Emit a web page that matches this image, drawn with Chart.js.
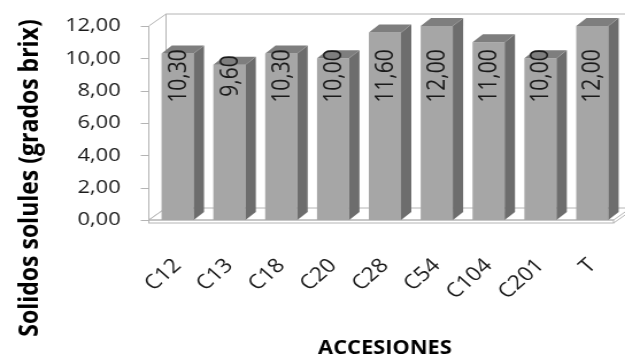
<!DOCTYPE html>
<html>
<head>
<meta charset="utf-8">
<script src="https://cdn.jsdelivr.net/npm/chart.js@4"></script>
<style>
  html, body { margin: 0; padding: 0; background: #fff; overflow: hidden; }
  /* Excel export is wider than tall: render narrow, stretch horizontally */
  #wrap { width: 544px; height: 358px; transform: scaleX(1.149); transform-origin: 0 0; }
</style>
</head>
<body>
<div id="wrap"><canvas id="chart" width="544" height="358"></canvas></div>
<script>
// ── Data ───────────────────────────────────────────────────
const accesiones = ['C12','C13','C18','C20','C28','C54','C104','C201','T'];
const solidos    = [10.30, 9.60, 10.30, 10.00, 11.60, 12.00, 11.00, 10.00, 12.00];
const yTicks     = [0, 2, 4, 6, 8, 10, 12];

const fmt = v => v.toFixed(2).replace('.', ',');

// ── 3D look ────────────────────────────────────────────────
const WALL_DX = 15, WALL_DY = -12;   // depth of the back wall
const BAR_DX  = 9,  BAR_DY  = -8;    // depth of each column
const FLOOR_H = 3;

Chart.defaults.font.family = "'Open Sans', sans-serif";
Chart.defaults.color = '#1a1a1a';

// fixed axis boxes so the plot area lands where the frame is drawn
function fixBox(size) {
  return s => {
    if (s.isHorizontal()) s.height = size; else s.width = size;
    s.paddingTop = s.paddingBottom = s.paddingLeft = s.paddingRight = 0;
  };
}

const frame3d = {
  id: 'frame3d',
  beforeDatasetsDraw(chart) {
    const { ctx, chartArea: a, scales: { y } } = chart;
    const ax = Math.round(a.left - 3.5) + 0.5;
    const top = y.getPixelForValue(yTicks[yTicks.length - 1]);
    const base = y.getPixelForValue(0);
    const fr = a.right - 4;
    ctx.save();
    ctx.strokeStyle = '#b4b4b4';
    ctx.fillStyle = '#fff';
    ctx.lineWidth = 1;

    // back wall outline
    ctx.beginPath();
    ctx.moveTo(ax + WALL_DX, base + WALL_DY);
    ctx.lineTo(ax + WALL_DX, top + WALL_DY);
    ctx.lineTo(chart.width + 20, top + WALL_DY);
    ctx.stroke();

    // side wall
    ctx.beginPath();
    ctx.moveTo(ax, base);
    ctx.lineTo(ax, top);
    ctx.lineTo(ax + WALL_DX, top + WALL_DY);
    ctx.lineTo(ax + WALL_DX, base + WALL_DY);
    ctx.closePath();
    ctx.fill();
    ctx.stroke();

    // floor slab: top, front, right
    ctx.beginPath();
    ctx.moveTo(ax, base);
    ctx.lineTo(fr, base);
    ctx.lineTo(fr + WALL_DX, base + WALL_DY);
    ctx.lineTo(ax + WALL_DX, base + WALL_DY);
    ctx.closePath();
    ctx.fill();
    ctx.stroke();
    ctx.strokeRect(ax, base, fr - ax, FLOOR_H);
    ctx.beginPath();
    ctx.moveTo(fr, base + FLOOR_H);
    ctx.lineTo(fr + WALL_DX, base + WALL_DY + FLOOR_H);
    ctx.lineTo(fr + WALL_DX, base + WALL_DY);
    ctx.stroke();

    // value axis ticks
    yTicks.forEach(v => {
      const py = Math.round(y.getPixelForValue(v)) + 0.5;
      ctx.beginPath();
      ctx.moveTo(ax - 7, py);
      ctx.lineTo(ax, py);
      ctx.stroke();
    });
    ctx.restore();
  },
  afterDatasetsDraw(chart) {
    const { ctx, chartArea: a } = chart;
    const bars = chart.getDatasetMeta(0).data;
    ctx.save();
    bars.forEach((bar, i) => {
      const { x, y, base, width } = bar.getProps(['x', 'y', 'base', 'width'], true);
      const l = x - width / 2, r = x + width / 2;
      // side face
      ctx.fillStyle = '#6d6d6d';
      ctx.beginPath();
      ctx.moveTo(r, y);
      ctx.lineTo(r + BAR_DX, y + BAR_DY);
      ctx.lineTo(r + BAR_DX, base + BAR_DY);
      ctx.lineTo(r, base);
      ctx.closePath();
      ctx.fill();
      // top face
      ctx.fillStyle = '#7e7e7e';
      ctx.beginPath();
      ctx.moveTo(l, y);
      ctx.lineTo(l + BAR_DX, y + BAR_DY);
      ctx.lineTo(r + BAR_DX, y + BAR_DY);
      ctx.lineTo(r, y);
      ctx.closePath();
      ctx.fill();

      // value label, vertical
      ctx.save();
      ctx.translate(x + 1, a.top + 50);
      ctx.rotate(-Math.PI / 2);
      ctx.fillStyle = '#1a1a1a';
      ctx.font = "21px 'Open Sans', sans-serif";
      ctx.textAlign = 'center';
      ctx.textBaseline = 'middle';
      ctx.fillText(fmt(solidos[i]), 0, 0);
      ctx.restore();
    });
    ctx.restore();
  },
  afterDraw(chart) {
    const { ctx } = chart;
    ctx.save();
    ctx.translate(26, 178);
    ctx.rotate(-Math.PI / 2);
    ctx.fillStyle = '#000';
    ctx.font = "bold 23px 'Open Sans', sans-serif";
    ctx.textAlign = 'center';
    ctx.textBaseline = 'middle';
    ctx.fillText('Solidos solules (grados brix)', 0, 0);
    ctx.restore();
  }
};

new Chart(document.getElementById('chart'), {
  type: 'bar',
  data: {
    labels: accesiones,
    datasets: [{
      data: solidos,
      backgroundColor: '#a6a6a6',
      borderWidth: 0,
      categoryPercentage: 0.62,
      barPercentage: 1
    }]
  },
  options: {
    responsive: false,
    animation: false,
    layout: { padding: { top: 26, right: 6, left: 0, bottom: 0 } },
    plugins: { legend: { display: false }, tooltip: { enabled: false } },
    scales: {
      x: {
        grid: { display: false, drawTicks: false },
        border: { display: false },
        ticks: { font: { size: 20 }, color: '#1a1a1a', minRotation: 45, maxRotation: 45, padding: 34 },
        title: { display: true, text: 'ACCESIONES', color: '#000', font: { size: 19, weight: 'bold' }, padding: { top: 0, bottom: -2 } },
        afterFit: fixBox(138)
      },
      y: {
        min: 0,
        max: 12,
        grid: { display: false, drawTicks: false },
        border: { display: false },
        ticks: { stepSize: 2, font: { size: 19 }, color: '#1a1a1a', padding: 27, callback: v => fmt(v) },
        afterFit: fixBox(132)
      }
    }
  },
  plugins: [frame3d]
});
</script>
</body>
</html>
